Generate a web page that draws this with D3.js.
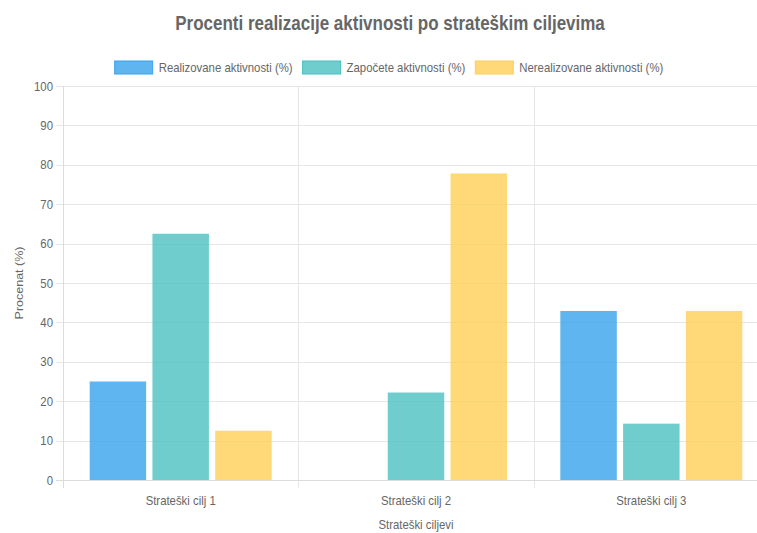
<!DOCTYPE html>
<html>
<head>
<meta charset="utf-8">
<script src="https://cdn.jsdelivr.net/npm/d3@7"></script>
<style>
  html, body { margin: 0; padding: 0; background: #fff; overflow: hidden; }
  svg { display: block; font-family: "Liberation Sans", Arial, sans-serif; }
</style>
</head>
<body>
<svg id="chart" width="757" height="533"></svg>
<script>
const categories = ["Strateški cilj 1", "Strateški cilj 2", "Strateški cilj 3"];
const seriesNames = ["Realizovane aktivnosti (%)", "Započete aktivnosti (%)", "Nerealizovane aktivnosti (%)"];
const realizovane = [25, 0, 42.9];
const zapocete = [62.5, 22.2, 14.3];
const nerealizovane = [12.5, 77.8, 42.9];
const yTicks = [0, 10, 20, 30, 40, 50, 60, 70, 80, 90, 100];
const titleText = "Procenti realizacije aktivnosti po strateškim ciljevima";
const xTitle = "Strateški ciljevi";
const yTitle = "Procenat (%)";

(function () {
const seriesValues = [realizovane, zapocete, nerealizovane];
const fills = ["rgba(54,162,235,0.8)", "rgba(75,192,192,0.8)", "rgba(255,206,86,0.8)"];
const strokes = ["rgb(54,162,235)", "rgb(75,192,192)", "rgb(255,206,86)"];

const SX = 0.91;
const textColor = "#666";
const gridColor = "#e6e6e6";

const svg = d3.select("#chart");
const pL = 63, pT = 86, pR = 769, pB = 480;
const canvasCenter = 389;

const x0 = d3.scaleBand().domain(categories).range([pL, pR]).paddingInner(0.2).paddingOuter(0.1);
const x1 = d3.scaleBand().domain(seriesNames).range([0, x0.bandwidth()]).paddingInner(0.1).paddingOuter(0.05);
const y = d3.scaleLinear().domain([0, 100]).range([pB, pT]);

function placeText(g, x, yy, txt, opts) {
  const t = g.append("text")
    .attr("transform", `translate(${x},${yy}) scale(${opts.sx || SX},1)` + (opts.rotate ? ` rotate(${opts.rotate})` : ""))
    .attr("text-anchor", opts.anchor || "start")
    .attr("fill", opts.fill || textColor)
    .attr("font-size", opts.size || 12)
    .attr("font-weight", opts.weight || "normal")
    .text(txt);
  return t;
}

const grid = svg.append("g");
grid.selectAll("line.h").data(yTicks).join("line")
  .attr("x1", pL - 7).attr("x2", 757)
  .attr("y1", d => Math.round(y(d)) + 0.5).attr("y2", d => Math.round(y(d)) + 0.5)
  .attr("stroke", gridColor).attr("stroke-width", 1);

const bounds = [pL].concat(categories.map(c => x0(c) - x0.step() * 0.1 + x0.step()));
grid.selectAll("line.v").data(bounds).join("line")
  .attr("x1", d => Math.round(d) + 0.5).attr("x2", d => Math.round(d) + 0.5)
  .attr("y1", pT).attr("y2", pB + 8)
  .attr("stroke", gridColor).attr("stroke-width", 1);

svg.append("line").attr("x1", pL + 0.5).attr("x2", pL + 0.5).attr("y1", pT).attr("y2", pB + 8)
  .attr("stroke", "#dcdcdc");
svg.append("line").attr("x1", pL - 7).attr("x2", 757).attr("y1", pB + 0.5).attr("y2", pB + 0.5)
  .attr("stroke", "#dcdcdc");

const yAxis = d3.axisLeft(y).tickValues(yTicks).tickSize(0).tickPadding(0);
const gy = svg.append("g").attr("transform", `translate(${pL},0)`).call(yAxis);
gy.select(".domain").remove();
gy.selectAll(".tick text")
  .attr("x", 0)
  .attr("transform", `translate(-10,0) scale(${SX},1)`)
  .attr("fill", textColor).attr("font-size", 12.5)
  .attr("font-family", "Liberation Sans, Arial, sans-serif");

const xAxis = d3.axisBottom(x0).tickSize(0).tickPadding(0);
const gx = svg.append("g").attr("transform", `translate(0,${pB})`).call(xAxis);
gx.select(".domain").remove();
gx.selectAll(".tick text")
  .attr("y", 0).attr("dy", 0)
  .attr("transform", `translate(0,25) scale(${SX},1)`)
  .attr("fill", textColor).attr("font-size", 12.5)
  .attr("font-family", "Liberation Sans, Arial, sans-serif");

const groups = svg.append("g").selectAll("g").data(categories).join("g")
  .attr("transform", d => `translate(${x0(d)},0)`);
groups.selectAll("rect")
  .data((c, ci) => seriesNames.map((s, si) => ({ s, si, v: seriesValues[si][ci] })))
  .join("rect")
  .attr("x", d => x1(d.s))
  .attr("width", x1.bandwidth())
  .attr("y", d => y(d.v))
  .attr("height", d => y(0) - y(d.v))
  .attr("fill", d => fills[d.si]);

placeText(svg, (pL + pR) / 2, 529, xTitle, { anchor: "middle", size: 12.5 });
placeText(svg, 23, (pT + pB) / 2, yTitle, { anchor: "middle", size: 12.5, rotate: -90 });

placeText(svg, canvasCenter + 1, 30, titleText, { anchor: "middle", size: 20, weight: "bold", sx: 0.85 });

const lg = svg.append("g");
const boxW = 38, boxH = 13, gapBT = 6, gapItems = 10;
const items = seriesNames.map((n, i) => {
  const t = placeText(lg, 0, 72, n, { size: 12.5 });
  const w = t.node().getComputedTextLength() * SX;
  return { t, w, i };
});
const total = d3.sum(items, d => boxW + gapBT + d.w) + gapItems * (items.length - 1);
let cx = canvasCenter - total / 2;
items.forEach(d => {
  lg.append("rect").attr("x", cx).attr("y", 61).attr("width", boxW).attr("height", boxH)
    .attr("fill", fills[d.i]).attr("stroke", strokes[d.i]).attr("stroke-width", 1);
  d.t.attr("transform", `translate(${cx + boxW + gapBT},72) scale(${SX},1)`);
  cx += boxW + gapBT + d.w + gapItems;
});
})();
</script>
</body>
</html>
